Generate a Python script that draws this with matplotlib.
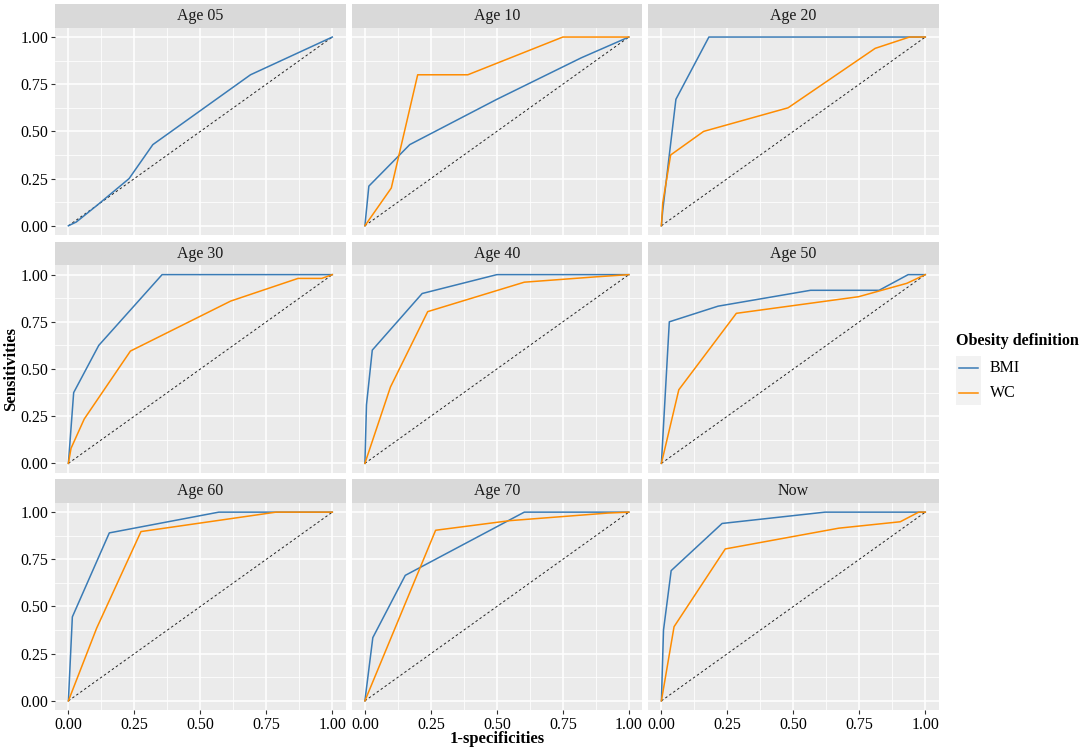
import numpy as np
import matplotlib
matplotlib.use('Agg')
import matplotlib.pyplot as plt
from matplotlib.patches import Rectangle
from matplotlib.lines import Line2D

plt.rcParams['font.family'] = ['Liberation Serif', 'DejaVu Serif']

panels = ['Age 05', 'Age 10', 'Age 20', 'Age 30', 'Age 40', 'Age 50', 'Age 60', 'Age 70', 'Now']

bmi_x = [
    [0, 0.03, 0.11, 0.23, 0.32, 0.69, 1],
    [0, 0.015, 0.17, 0.5, 0.82, 1],
    [0, 0.005, 0.055, 0.18, 1],
    [0, 0.02, 0.115, 0.355, 1],
    [0, 0.006, 0.028, 0.217, 0.5, 1],
    [0, 0.03, 0.215, 0.565, 0.825, 0.935, 1],
    [0, 0.015, 0.155, 0.57, 1],
    [0, 0.03, 0.153, 0.604, 1],
    [0, 0.008, 0.037, 0.23, 0.62, 1],
]
bmi_y = [
    [0, 0.02, 0.11, 0.25, 0.43, 0.80, 1],
    [0, 0.21, 0.43, 0.67, 0.89, 1],
    [0, 0.08, 0.67, 1, 1],
    [0, 0.375, 0.625, 1, 1],
    [0, 0.31, 0.6, 0.9, 1, 1],
    [0, 0.75, 0.833, 0.917, 0.917, 1, 1],
    [0, 0.445, 0.89, 1, 1],
    [0, 0.335, 0.665, 1, 1],
    [0, 0.375, 0.69, 0.94, 1, 1],
]
wc_x = [
    None,
    [0, 0.1, 0.2, 0.39, 0.75, 1],
    [0, 0.005, 0.035, 0.16, 0.48, 0.81, 0.94, 1],
    [0, 0.01, 0.06, 0.235, 0.615, 0.87, 0.96, 1],
    [0, 0.097, 0.238, 0.604, 0.872, 1],
    [0, 0.066, 0.284, 0.747, 0.93, 1],
    [0, 0.107, 0.275, 0.787, 1],
    [0, 0.268, 0.55, 0.92, 1],
    [0, 0.048, 0.242, 0.672, 0.905, 0.975, 1],
]
wc_y = [
    None,
    [0, 0.2, 0.8, 0.8, 1, 1],
    [0, 0.12, 0.375, 0.5, 0.625, 0.94, 1, 1],
    [0, 0.08, 0.235, 0.595, 0.86, 0.98, 0.98, 1],
    [0, 0.405, 0.804, 0.96, 0.988, 1],
    [0, 0.39, 0.795, 0.883, 0.954, 1],
    [0, 0.385, 0.897, 1, 1],
    [0, 0.904, 0.955, 0.995, 1],
    [0, 0.393, 0.805, 0.915, 0.949, 1, 1],
]

ticks = [0, 0.25, 0.5, 0.75, 1]
tick_labels = ['0.00', '0.25', '0.50', '0.75', '1.00']

blue = '#3A7BB5'
orange = '#FF8C00'

W, H = 1084, 752
fig = plt.figure(figsize=(W / 100, H / 100), dpi=100)

lefts = [55.2, 351.7, 648.2]
tops = [27.6, 265.2, 502.7]
pw, ph = 290.3, 207.6
sh = 23.4

for i, name in enumerate(panels):
    r, c = divmod(i, 3)
    l, t = lefts[c], tops[r]
    ax = fig.add_axes([l / W, 1 - (t + ph) / H, pw / W, ph / H])
    ax.set_facecolor('#EBEBEB')
    for s in ax.spines.values():
        s.set_visible(False)
    ax.set_xlim(-0.05, 1.05)
    ax.set_ylim(-0.05, 1.05)
    ax.set_xticks(ticks)
    ax.set_yticks(ticks)
    ax.set_xticks([0.125, 0.375, 0.625, 0.875], minor=True)
    ax.set_yticks([0.125, 0.375, 0.625, 0.875], minor=True)
    ax.grid(which='major', color='white', linewidth=1.1)
    ax.grid(which='minor', color='white', linewidth=0.55)
    ax.set_axisbelow(True)
    ax.tick_params(which='minor', length=0)
    ax.tick_params(which='major', length=3.2, width=0.8, color='#333333',
                   labelsize=11.5, labelcolor='black', pad=1.5)
    if c == 0:
        ax.set_yticklabels(tick_labels)
    else:
        ax.tick_params(axis='y', length=0, labelleft=False)
    if r == 2:
        ax.set_xticklabels(tick_labels)
    else:
        ax.tick_params(axis='x', length=0, labelbottom=False)

    ax.plot([0, 1], [0, 1], color='#222222', linestyle=(0, (2.5, 2.5)), linewidth=0.7)
    ax.plot(bmi_x[i], bmi_y[i], color=blue, linewidth=1.1)
    if wc_x[i] is not None:
        ax.plot(wc_x[i], wc_y[i], color=orange, linewidth=1.1)

    # strip
    sax = fig.add_axes([l / W, 1 - t / H, pw / W, sh / H])
    sax.set_facecolor('#D9D9D9')
    sax.set_xticks([])
    sax.set_yticks([])
    for s in sax.spines.values():
        s.set_visible(False)
    sax.text(0.5, 0.5, name, ha='center', va='center', fontsize=11.5,
             transform=sax.transAxes, color='#1A1A1A')

# axis titles
fig.text(496.7 / W, 1 - 739 / H, '1-specificities', ha='center', va='center',
         fontsize=12, fontweight='bold')
fig.text(11 / W, 1 - 369 / H, 'Sensitivities', ha='center', va='center',
         rotation=90, fontsize=12, fontweight='bold')

# legend
fig.text(956 / W, 1 - 341 / H, 'Obesity definition', ha='left', va='center',
         fontsize=11.6, fontweight='bold')
labels = ['BMI', 'WC']
colors = [blue, orange]
for k, (lab, col) in enumerate(zip(labels, colors)):
    y0 = 356 + k * 24.6
    fig.patches.append(Rectangle((956 / W, 1 - (y0 + 24.6) / H), 24.6 / W, 24.6 / H,
                                 transform=fig.transFigure, facecolor='#F2F2F2',
                                 edgecolor='none'))
    yc = 1 - (y0 + 12.3) / H
    fig.lines.append(Line2D([959 / W, 978 / W], [yc, yc], transform=fig.transFigure,
                            color=col, linewidth=1.1))
    fig.text(990 / W, yc, lab, ha='left', va='center', fontsize=11.5)

fig.savefig('out.png', dpi=100, facecolor='white')
